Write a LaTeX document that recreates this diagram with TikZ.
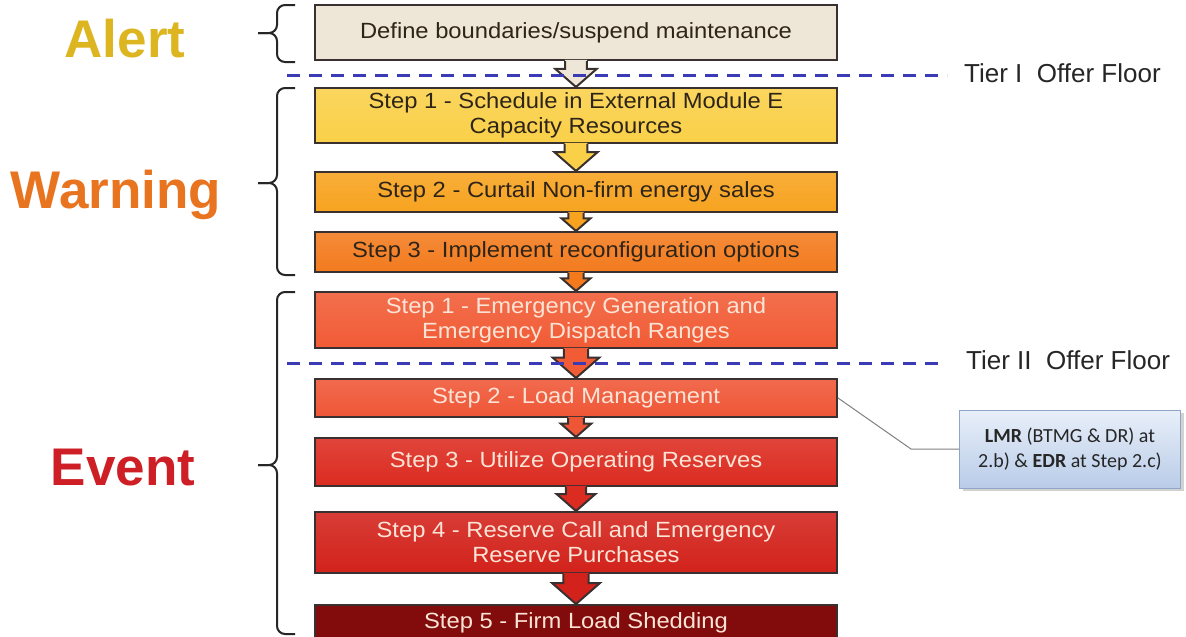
\documentclass[tikz,border=0pt]{standalone}
\usepackage{fontspec}
\setmainfont{Liberation Sans}
\newfontfamily\stepfont[FakeStretch=1.08]{Liberation Sans}
\newfontfamily\calloutfont{Carlito}
\usetikzlibrary{calc,shadows}

\definecolor{alertbeige}{HTML}{EEE6D7}
\definecolor{warnyellow}{HTML}{FAD048}
\definecolor{warnorange}{HTML}{F7A31F}
\definecolor{warndeep}{HTML}{F37B1E}
\definecolor{eventone}{HTML}{F15B35}
\definecolor{eventtwo}{HTML}{EF5636}
\definecolor{eventthree}{HTML}{DC2B20}
\definecolor{eventfour}{HTML}{D2221B}
\definecolor{eventfive}{HTML}{820C0C}
\definecolor{boxline}{HTML}{3A3030}
\definecolor{tierblue}{HTML}{3B3BB5}
\definecolor{darktext}{HTML}{2E2418}
\definecolor{lighttext}{HTML}{FBE4D6}
\definecolor{alertgold}{HTML}{DDB520}
\definecolor{warnlabel}{HTML}{E8741F}
\definecolor{eventlabel}{HTML}{CD1F25}
\definecolor{calloutedge}{HTML}{8FA6C9}
\definecolor{callouttop}{HTML}{E8EFF9}
\definecolor{calloutbottom}{HTML}{B9CCE8}

% block arrow from one step box down to the next
\newcommand{\flowarrow}[3]{%
  \fill[#3] let \p1=(#1.south), \p2=(#2.north), \n1={\y1-\y2} in
    (\x1-0.42*\n1,\y1+1.2pt) -- (\x1-0.42*\n1,\y2+0.7*\n1) -- (\x1-0.8*\n1,\y2+0.7*\n1)
    -- (\x1,\y2) -- (\x1+0.8*\n1,\y2+0.7*\n1) -- (\x1+0.42*\n1,\y2+0.7*\n1)
    -- (\x1+0.42*\n1,\y1+1.2pt) -- cycle;
  \draw[boxline, line width=2pt] let \p1=(#1.south), \p2=(#2.north), \n1={\y1-\y2} in
    (\x1-0.42*\n1,\y1) -- (\x1-0.42*\n1,\y2+0.7*\n1) -- (\x1-0.8*\n1,\y2+0.7*\n1)
    -- (\x1,\y2) -- (\x1+0.8*\n1,\y2+0.7*\n1) -- (\x1+0.42*\n1,\y2+0.7*\n1)
    -- (\x1+0.42*\n1,\y1);
}

\begin{document}
\begin{tikzpicture}[x=1pt, y=-1pt,
  stepbox/.style={draw=boxline, line width=2pt, minimum width=522pt, inner sep=0pt,
    align=center, font=\stepfont\fontsize{22}{25}\selectfont},
  stepfill/.style={top color=#1!88!white, bottom color=#1},
  phase/.style={anchor=base, font=\bfseries\fontsize{53}{60}\selectfont},
  bracket/.style={line width=2pt, black!85, rounded corners=8pt},
  tierline/.style={tierblue, line width=3pt, dash pattern=on 13pt off 9pt},
  tierlabel/.style={anchor=west, inner sep=0pt, text=black!85, font=\fontsize{26}{28}\selectfont},
  callout/.style={draw=calloutedge, line width=1pt, top color=callouttop, bottom color=calloutbottom,
    minimum width=221pt, minimum height=78pt, align=center, text=black!85,
    font=\calloutfont\fontsize{20}{25}\selectfont,
    drop shadow={opacity=0.35, shadow xshift=3pt, shadow yshift=-3pt}}]

  \useasboundingbox[fill=white] (0,0) rectangle (1186,637);

  % Alert
  \node[stepbox, fill=alertbeige, minimum height=55pt, text=darktext] (alert) at (576,32.5)
    {Define boundaries/suspend maintenance};

  % Warning
  \node[stepbox, stepfill=warnyellow, minimum height=55pt, text=darktext] (warnA) at (576,115.5)
    {Step 1 - Schedule in External Module E\\Capacity Resources};
  \node[stepbox, stepfill=warnorange, minimum height=40pt, text=darktext] (warnB) at (576,192)
    {Step 2 - Curtail Non-firm energy sales};
  \node[stepbox, stepfill=warndeep, minimum height=40pt, text=darktext] (warnC) at (576,252)
    {Step 3 - Implement reconfiguration options};

  % Event
  \node[stepbox, stepfill=eventone, minimum height=56pt, text=lighttext] (eventA) at (576,320)
    {Step 1 - Emergency Generation and\\Emergency Dispatch Ranges};
  \node[stepbox, stepfill=eventtwo, minimum height=38pt, text=lighttext] (eventB) at (576,398)
    {Step 2 - Load Management};
  \node[stepbox, stepfill=eventthree, minimum height=48pt, text=lighttext] (eventC) at (576,462)
    {Step 3 - Utilize Operating Reserves};
  \node[stepbox, stepfill=eventfour, minimum height=61pt, text=lighttext] (eventD) at (576,542.5)
    {Step 4 - Reserve Call and Emergency\\Reserve Purchases};
  \node[stepbox, fill=eventfive, minimum height=36pt, text=lighttext] (eventE) at (576,623)
    {Step 5 - Firm Load Shedding};

  % arrows between the steps
  \flowarrow{alert}{warnA}{alertbeige}
  \flowarrow{warnA}{warnB}{warnyellow}
  \flowarrow{warnB}{warnC}{warnorange}
  \flowarrow{warnC}{eventA}{warndeep}
  \flowarrow{eventA}{eventB}{eventone}
  \flowarrow{eventB}{eventC}{eventtwo}
  \flowarrow{eventC}{eventD}{eventthree}
  \flowarrow{eventD}{eventE}{eventfour}

  % offer floors
  \draw[tierline] (287,75) -- (947,75);
  \node[tierlabel] (tierone) at (964,73) {Tier I\ \ Offer Floor};
  \draw[tierline] (287,363) -- (945,363);
  \node[tierlabel] (tiertwo) at (966,360) {Tier II\ \ Offer Floor};

  % phase labels and braces
  \node[phase, text=alertgold] (alertlabel) at (125,57) {Alert};
  \node[phase, text=warnlabel] (warnlabel) at (116,208) {Warning};
  \node[phase, text=eventlabel] (eventlabel) at (123,485) {Event};

  \draw[bracket] (295,5) -- (277,5) -- (277,33) -- (258,33);
  \draw[bracket] (258,33) -- (277,33) -- (277,62) -- (295,62);
  \draw[bracket] (295,88) -- (277,88) -- (277,183) -- (258,183);
  \draw[bracket] (258,183) -- (277,183) -- (277,275) -- (295,275);
  \draw[bracket] (295,292) -- (277,292) -- (277,465) -- (258,465);
  \draw[bracket] (258,465) -- (277,465) -- (277,634) -- (295,634);

  % load management note
  \node[callout] (lmr) at (1070,449)
    {\textbf{LMR} (BTMG \& DR) at\\2.b) \& \textbf{EDR} at Step 2.c)};
  \draw[gray, line width=1pt] (eventB.east) -- ([xshift=-48pt]lmr.west) -- (lmr.west);
\end{tikzpicture}
\end{document}
